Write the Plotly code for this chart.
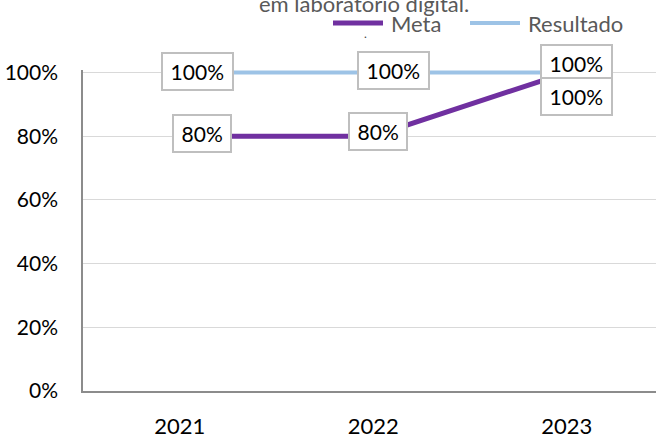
import plotly.graph_objects as go

years = ["2021", "2022", "2023"]
meta = [0.80, 0.80, 1.00]
resultado = [1.00, 1.00, 1.00]
y_ticks = [0, 0.2, 0.4, 0.6, 0.8, 1.0]
y_tick_text = ["0%", "20%", "40%", "60%", "80%", "100%"]
title_text = "em laboratório digital."

# label offsets (pixels) to mimic the hand-placed Excel data labels
meta_shift = [(22, 3), (5, 5), (10, -24)]
res_shift = [(18, 1), (20, 2), (10, 9)]

W, H = 656, 436
ML, MR, MT, MB = 83, 0, 70, 45
PW = W - ML - MR
PH = H - MT - MB

FONT = "Lato"

def px(x):
    return (x - ML) / PW

def py(y):
    return 1 + (MT - y) / PH

series = [
    dict(name="Meta", values=meta, color="#7030A0", width=5, shifts=meta_shift, key_x=333),
    dict(name="Resultado", values=resultado, color="#9DC3E6", width=4, shifts=res_shift, key_x=470),
]

fig = go.Figure()
for s in series:
    fig.add_trace(go.Scatter(x=years, y=s["values"], mode="lines", name=s["name"],
                             line=dict(color=s["color"], width=s["width"]), showlegend=False))

def fmt(v):
    return f"{v*100:.0f}%"

annos = []
shapes = []
for s in reversed(series):
    for i, (v, (dx, dy)) in enumerate(zip(s["values"], s["shifts"])):
        annos.append(dict(x=i, y=v, xref="x", yref="y", text="\u2009" + fmt(v) + "\u2009",
                          showarrow=False, xshift=dx, yshift=dy,
                          font=dict(family=FONT, size=21, color="#000000"),
                          bgcolor="#FFFFFF", bordercolor="#BFBFBF", borderwidth=2,
                          borderpad=5))

# legend (drawn manually for Excel-like 50px keys)
for s in series:
    kx = s["key_x"]
    shapes.append(dict(type="line", xref="paper", yref="paper",
                       x0=px(kx), x1=px(kx + 50), y0=py(23), y1=py(23),
                       line=dict(color=s["color"], width=s["width"])))
    annos.append(dict(x=px(kx + 56), y=py(23), xref="paper", yref="paper",
                      text=s["name"], showarrow=False, xanchor="left", yanchor="middle",
                      font=dict(family=FONT, size=22, color="#595959")))

annos.append(dict(x=px(364), y=py(3), xref="paper", yref="paper",
                  text=title_text, showarrow=False, xanchor="center", yanchor="middle",
                  font=dict(family=FONT, size=22, color="#595959")))
annos.append(dict(x=px(365), y=py(33), xref="paper", yref="paper",
                  text=".", showarrow=False, xanchor="center", yanchor="middle",
                  font=dict(family=FONT, size=12, color="#404040")))

fig.update_layout(
    width=W, height=H,
    margin=dict(l=ML, r=MR, t=MT, b=MB, pad=0, autoexpand=False),
    paper_bgcolor="#FFFFFF", plot_bgcolor="#FFFFFF",
    showlegend=False,
    xaxis=dict(type="category", range=[-0.5, 2.461], showgrid=False,
               showline=True, linecolor="#8C8C8C", linewidth=1.5,
               ticks="", tickfont=dict(family=FONT, size=22, color="#000000"),
               ticklabelstandoff=15, zeroline=False, fixedrange=True, automargin=False),
    yaxis=dict(range=[0, 1.008], tickvals=y_ticks, ticktext=y_tick_text,
               showgrid=True, gridcolor="#D9D9D9", gridwidth=1,
               showline=True, linecolor="#8C8C8C", linewidth=1.5,
               ticks="", tickfont=dict(family=FONT, size=21, color="#000000"),
               ticklabelstandoff=19, zeroline=False, fixedrange=True, automargin=False),
    annotations=annos,
    shapes=shapes,
)

fig.write_html("out.html", config={"displayModeBar": False},
               post_script="document.body.style.margin='0';document.body.style.overflow='hidden';")
